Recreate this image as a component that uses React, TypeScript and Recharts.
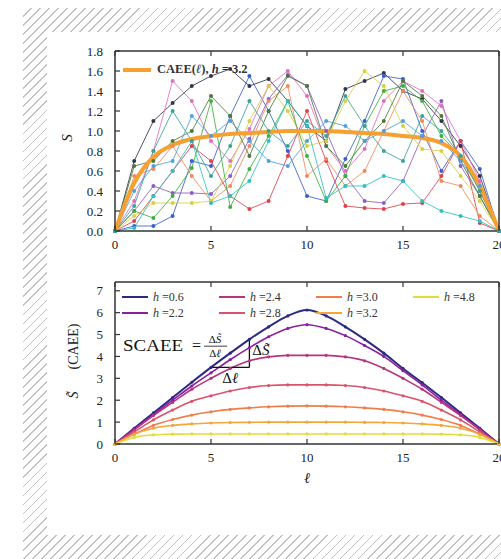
import React from 'react';
import { LineChart, Line, XAxis, YAxis, Legend, ReferenceLine, ReferenceDot } from 'recharts';

// ---------- data ----------
const ell = [0, 1, 2, 3, 4, 5, 6, 7, 8, 9, 10, 11, 12, 13, 14, 15, 16, 17, 18, 19, 20];
const xTicks = [0, 5, 10, 15, 20];
const topYTicks = [0, 0.2, 0.4, 0.6, 0.8, 1.0, 1.2, 1.4, 1.6, 1.8];
const botYTicks = [0, 1, 2, 3, 4, 5, 6, 7];

// top panel: entanglement of individual states
const s1 = [0, 0.7, 1.1, 1.28, 1.45, 1.55, 1.62, 1.45, 1.52, 1.3, 1.05, 0.9, 1.42, 1.5, 1.58, 1.4, 1.32, 1.1, 0.85, 0.55, 0];
const s2 = [0, 0.05, 0.05, 0.15, 0.7, 0.65, 1.15, 1.55, 1.2, 0.8, 0.35, 0.3, 0.72, 1.1, 1.55, 1.52, 1.0, 0.6, 0.9, 0.62, 0];
const s3 = [0, 0.2, 0.45, 0.38, 0.38, 0.37, 0.55, 0.92, 1.32, 1.56, 1.45, 1.0, 0.55, 0.3, 0.28, 0.5, 0.95, 1.3, 0.65, 0.35, 0];
const s4 = [0, 0.3, 0.8, 1.5, 1.3, 0.9, 0.7, 1.02, 1.45, 1.6, 1.35, 0.85, 0.6, 0.82, 1.3, 1.5, 1.4, 1.25, 0.9, 0.5, 0];
const s5 = [0, 0.1, 0.35, 0.6, 0.85, 0.7, 0.35, 0.22, 0.3, 0.75, 1.2, 0.7, 0.25, 0.23, 0.22, 0.27, 0.28, 0.55, 0.9, 0.08, 0];
const s6 = [0, 0.55, 0.62, 0.85, 0.55, 0.3, 0.45, 0.85, 1.3, 1.45, 0.55, 0.72, 0.45, 0.6, 1.0, 1.4, 1.1, 0.5, 0.45, 0.15, 0];
const s7 = [0, 0.15, 0.28, 0.28, 0.28, 0.3, 0.65, 1.1, 1.45, 1.2, 0.85, 0.9, 1.3, 1.6, 1.45, 1.05, 0.82, 0.8, 0.55, 0.3, 0];
const s8 = [0, 0.2, 0.13, 0.35, 0.63, 1.3, 0.24, 0.62, 0.95, 1.3, 0.75, 0.3, 0.55, 1.05, 1.4, 1.45, 1.3, 0.95, 0.75, 0.4, 0];
const s9 = [0, 0.03, 0.35, 0.6, 0.9, 0.28, 0.35, 0.5, 0.9, 1.3, 1.05, 0.33, 0.45, 0.45, 0.55, 0.5, 0.3, 0.2, 0.15, 0.1, 0];
const s10 = [0, 0.65, 0.7, 0.9, 1.0, 1.35, 1.15, 0.75, 1.2, 1.55, 1.45, 0.85, 0.65, 0.9, 1.1, 1.5, 1.35, 1.15, 0.7, 0.35, 0];
const s11 = [0, 0.4, 0.65, 0.7, 1.15, 0.95, 1.1, 0.9, 0.7, 0.65, 0.9, 1.1, 1.05, 0.9, 1.0, 1.1, 0.95, 0.9, 0.7, 0.45, 0];
const s12 = [0, 0.25, 0.8, 1.2, 0.9, 0.55, 0.85, 1.3, 1.0, 0.85, 1.1, 0.95, 1.35, 1.05, 0.8, 0.7, 1.15, 1.0, 0.75, 0.4, 0];
const caee = [0, 0.48, 0.74, 0.86, 0.92, 0.95, 0.97, 0.98, 0.99, 1.0, 1.0, 1.0, 0.99, 0.98, 0.97, 0.95, 0.93, 0.88, 0.75, 0.45, 0];

const stateSeries = [s1, s2, s3, s4, s5, s6, s7, s8, s9, s10, s11, s12];
const stateColors = ['#33334a', '#3a5fcd', '#8e5cc4', '#e06fc0', '#e0404a', '#f08a5a', '#d8d040', '#40b040', '#30c0c8', '#4a7a3a', '#50a0e0', '#3aa39a'];

// bottom panel: CAEE for several h
const hLabels = ['0.6', '2.2', '2.4', '2.8', '3.0', '3.2', '4.8'];
const hColors = ['#2d2a86', '#8a1fa0', '#b5367e', '#d9546a', '#ee7e4c', '#f5a53a', '#e2dc3a'];
const h06 = [0, 0.72, 1.42, 2.12, 2.82, 3.5, 4.15, 4.78, 5.35, 5.85, 6.12, 5.85, 5.35, 4.78, 4.15, 3.45, 2.8, 2.12, 1.42, 0.72, 0];
const h22 = [0, 0.68, 1.35, 2.0, 2.65, 3.25, 3.85, 4.4, 4.9, 5.28, 5.45, 5.28, 4.95, 4.5, 4.0, 3.35, 2.7, 2.0, 1.35, 0.68, 0];
const h24 = [0, 0.65, 1.3, 1.9, 2.5, 3.0, 3.45, 3.8, 3.98, 4.05, 4.05, 4.05, 3.98, 3.8, 3.45, 3.0, 2.5, 1.9, 1.3, 0.65, 0];
const h28 = [0, 0.55, 1.1, 1.55, 1.95, 2.2, 2.42, 2.58, 2.67, 2.7, 2.7, 2.7, 2.67, 2.58, 2.42, 2.2, 1.95, 1.55, 1.1, 0.55, 0];
const h30 = [0, 0.45, 0.85, 1.12, 1.32, 1.47, 1.58, 1.65, 1.7, 1.73, 1.74, 1.73, 1.7, 1.65, 1.58, 1.47, 1.32, 1.12, 0.85, 0.45, 0];
const h32 = [0, 0.45, 0.72, 0.85, 0.92, 0.96, 0.98, 0.99, 1.0, 1.0, 1.0, 1.0, 1.0, 0.99, 0.98, 0.96, 0.92, 0.85, 0.72, 0.45, 0];
const h48 = [0, 0.3, 0.42, 0.45, 0.46, 0.46, 0.46, 0.46, 0.46, 0.46, 0.46, 0.46, 0.46, 0.46, 0.46, 0.46, 0.46, 0.45, 0.42, 0.3, 0];
const hSeries = [h06, h22, h24, h28, h30, h32, h48];

// annotation (slope triangle) in data coordinates
const triX0 = 5;
const triX1 = 7;
const triY0 = 3.5;
const triY1 = 4.78;

const topData = ell.map((l, i) => {
  const row: Record<string, number> = { l, caee: caee[i] };
  stateSeries.forEach((s, k) => { row['s' + k] = s[i]; });
  return row;
});
const botData = ell.map((l, i) => {
  const row: Record<string, number> = { l };
  hSeries.forEach((s, k) => { row['h' + k] = s[i]; });
  return row;
});

// ---------- styling helpers ----------
const FONT = '"Liberation Serif", "DejaVu Serif", serif';
const AX = '#333';
const TL = 5;

const BottomTick = (props: any) => {
  const { x, y, payload } = props;
  return (
    <g>
      <line x1={x} y1={y} x2={x} y2={y - TL} stroke={AX} strokeWidth={1.2} />
      <text x={x} y={y + 18} textAnchor="middle" fontFamily={FONT} fontSize={13} fill="#222">{payload.value}</text>
    </g>
  );
};
const TopTick = (props: any) => {
  const { x, y } = props;
  return <line x1={x} y1={y} x2={x} y2={y + TL} stroke={AX} strokeWidth={1.2} />;
};
const makeLeftTick = (fmt: (v: number) => string) => (props: any) => {
  const { x, y, payload } = props;
  return (
    <g>
      <line x1={x} y1={y} x2={x + TL} y2={y} stroke={AX} strokeWidth={1.2} />
      <text x={x - 12} y={y + 4.5} textAnchor="end" fontFamily={FONT} fontSize={13} fill="#222">{fmt(payload.value)}</text>
    </g>
  );
};
const RightTick = (props: any) => {
  const { x, y } = props;
  return <line x1={x} y1={y} x2={x - TL} y2={y} stroke={AX} strokeWidth={1.2} />;
};

const axisLine = { stroke: AX, strokeWidth: 1.5 };

const TopLegend = () => (
  <div style={{ display: 'flex', alignItems: 'center', fontFamily: FONT, fontSize: 12.5, fontWeight: 'bold', color: '#333' }}>
    <svg width={28} height={8}><line x1={0} y1={4} x2={28} y2={4} stroke="#f5a030" strokeWidth={4} /></svg>
    <span style={{ marginLeft: 6 }}>CAEE(<i>ℓ</i>), <i>h</i> = 3.2</span>
  </div>
);

const BottomLegend = () => (
  <div style={{ display: 'grid', gridTemplateRows: '16px 16px', gridAutoFlow: 'column', gridAutoColumns: '97px', fontFamily: FONT, fontSize: 12, color: '#333' }}>
    {hLabels.map((h, i) => (
      <div key={h} style={{ display: 'flex', alignItems: 'center' }}>
        <svg width={26} height={6}><line x1={0} y1={3} x2={26} y2={3} stroke={hColors[i]} strokeWidth={2} /></svg>
        <span style={{ marginLeft: 5 }}><i>h</i> =<span>{h}</span></span>
      </div>
    ))}
  </div>
);

const txt = { fontFamily: FONT, fill: '#111' } as const;

const formulaLabel = (props: any) => {
  const vb = props.viewBox || {};
  const x = vb.x ?? 0;
  const y = vb.y ?? 0;
  return (
    <g>
      <text x={x} y={y} fontSize={16} textLength={60} lengthAdjust="spacingAndGlyphs" {...txt}>SCAEE</text>
      <text x={x + 69} y={y} fontSize={16} {...txt}>=</text>
      <text x={x + 92} y={y - 8} fontSize={11} textAnchor="middle" {...txt}>Δ<tspan fontStyle="italic">S̃</tspan></text>
      <line x1={x + 81} y1={y - 5} x2={x + 104} y2={y - 5} stroke="#111" strokeWidth={0.8} />
      <text x={x + 92} y={y + 6} fontSize={11} textAnchor="middle" {...txt}>Δ<tspan fontStyle="italic">ℓ</tspan></text>
    </g>
  );
};
const dSLabel = (props: any) => {
  const vb = props.viewBox || {};
  return <text x={vb.x ?? 0} y={vb.y ?? 0} fontSize={15} {...txt}>Δ<tspan fontStyle="italic">S̃</tspan></text>;
};
const dLLabel = (props: any) => {
  const vb = props.viewBox || {};
  return <text x={vb.x ?? 0} y={vb.y ?? 0} fontSize={15} textAnchor="middle" {...txt}>Δ<tspan fontStyle="italic">ℓ</tspan></text>;
};

export default function App() {
  return (
    <div style={{ position: 'absolute', left: 0, top: 0, width: 501, height: 559, background: '#fff', overflow: 'hidden' }}>
      <div style={{ position: 'absolute', left: 23, top: 8, width: 478, height: 551, background: 'repeating-linear-gradient(135deg, #ffffff 0px, #ffffff 5.2px, #c2c2c2 5.2px, #c2c2c2 6.4px)' }} />
      <div style={{ position: 'absolute', left: 47, top: 32, width: 454, height: 503, background: '#fff' }} />

      {/* top panel */}
      <div style={{ position: 'absolute', left: 47, top: 32 }}>
        <LineChart width={454} height={244} data={topData} margin={{ top: 18, right: 1, bottom: 0, left: 0 }}>
          <XAxis dataKey="l" type="number" domain={[0, 20]} ticks={xTicks} height={30} tickSize={0} tickMargin={0} tickLine={false} axisLine={axisLine} tick={<BottomTick />} interval={0} />
          <XAxis xAxisId="top" orientation="top" dataKey="l" type="number" domain={[0, 20]} ticks={xTicks} height={1} tickSize={0} tickMargin={0} tickLine={false} axisLine={axisLine} tick={<TopTick />} interval={0} />
          <YAxis type="number" domain={[0, 1.8]} ticks={topYTicks} width={68} tickSize={0} tickMargin={0} tickLine={false} axisLine={axisLine} tick={makeLeftTick((v) => v.toFixed(1))} interval={0}
            label={{ content: (p: any) => { const vb = p.viewBox || {}; const cx = (vb.x ?? 0) + 25; const cy = (vb.y ?? 0) + (vb.height ?? 0) / 2 - 3; return <text x={cx} y={cy} transform={`rotate(-90, ${cx}, ${cy})`} textAnchor="middle" fontFamily={FONT} fontStyle="italic" fontSize={15} fill="#222">S</text>; } }} />
          <YAxis yAxisId="right" orientation="right" type="number" domain={[0, 1.8]} ticks={topYTicks} width={1} tickSize={0} tickMargin={0} tickLine={false} axisLine={axisLine} tick={<RightTick />} interval={0} />
          <Legend content={<TopLegend />} wrapperStyle={{ position: 'absolute', left: 76, top: 30, width: 'auto' }} />
          {stateSeries.map((_, k) => (
            <Line key={k} dataKey={'s' + k} type="linear" stroke={stateColors[k]} strokeWidth={1} strokeOpacity={0.85}
              dot={{ r: 2, fill: stateColors[k], stroke: 'none' }} isAnimationActive={false} legendType="none" />
          ))}
          <Line dataKey="caee" type="monotone" stroke="#f5a030" strokeWidth={4} dot={false} isAnimationActive={false} />
        </LineChart>
      </div>

      {/* bottom panel */}
      <div style={{ position: 'absolute', left: 47, top: 264 }}>
        <LineChart width={454} height={262} data={botData} margin={{ top: 17, right: 1, bottom: 0, left: 0 }}>
          <XAxis dataKey="l" type="number" domain={[0, 20]} ticks={xTicks} height={50} tickSize={0} tickMargin={0} tickLine={false} axisLine={axisLine} tick={<BottomTick />} interval={0}
            label={{ content: (p: any) => { const vb = p.viewBox || {}; const cx = (vb.x ?? 0) + (vb.width ?? 0) / 2; const cy = (vb.y ?? 0) + 39; return <text x={cx} y={cy} textAnchor="middle" fontFamily={FONT} fontStyle="italic" fontSize={15} fill="#222">ℓ</text>; } }} />
          <XAxis xAxisId="top" orientation="top" dataKey="l" type="number" domain={[0, 20]} ticks={xTicks} height={1} tickSize={0} tickMargin={0} tickLine={false} axisLine={axisLine} tick={<TopTick />} interval={0} />
          <YAxis type="number" domain={[0, 7.4]} ticks={botYTicks} width={68} tickSize={0} tickMargin={0} tickLine={false} axisLine={axisLine} tick={makeLeftTick((v) => String(v))} interval={0}
            label={{ content: (p: any) => { const vb = p.viewBox || {}; const cx = (vb.x ?? 0) + 31; const cy = (vb.y ?? 0) + (vb.height ?? 0) / 2 - 2; return <text x={cx} y={cy} transform={`rotate(-90, ${cx}, ${cy})`} textAnchor="middle" fontFamily={FONT} fontSize={14} fill="#222"><tspan fontStyle="italic">S̃</tspan><tspan dx={22}>(CAEE)</tspan></text>; } }} />
          <YAxis yAxisId="right" orientation="right" type="number" domain={[0, 7.4]} ticks={botYTicks} width={1} tickSize={0} tickMargin={0} tickLine={false} axisLine={axisLine} tick={<RightTick />} interval={0} />
          <Legend content={<BottomLegend />} wrapperStyle={{ position: 'absolute', left: 75, top: 25, width: 'auto' }} />
          {hSeries.map((_, k) => (
            <Line key={k} dataKey={'h' + k} type="monotone" stroke={hColors[k]} strokeWidth={k === 0 ? 2 : 1.6}
              dot={{ r: 1.6, fill: hColors[k], stroke: 'none' }} isAnimationActive={false} />
          ))}
          <ReferenceLine segment={[{ x: triX0, y: triY0 }, { x: triX1, y: triY0 }]} stroke="#111" strokeWidth={1.3} />
          <ReferenceLine segment={[{ x: triX1, y: triY0 }, { x: triX1, y: triY1 }]} stroke="#111" strokeWidth={1.3} />
          <ReferenceDot x={0.42} y={4.24} r={0} fill="none" stroke="none" label={formulaLabel} />
          <ReferenceDot x={7.15} y={4.05} r={0} fill="none" stroke="none" label={dSLabel} />
          <ReferenceDot x={6.0} y={2.8} r={0} fill="none" stroke="none" label={dLLabel} />
        </LineChart>
      </div>
    </div>
  );
}
